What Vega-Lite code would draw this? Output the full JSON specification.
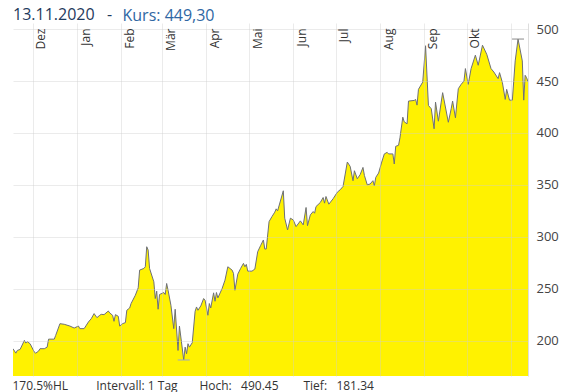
{
  "$schema": "https://vega.github.io/schema/vega-lite/v6.json",
  "width": 515,
  "height": 353,
  "autosize": {"type": "none"},
  "padding": {"left": 13, "top": 23, "right": 40, "bottom": 16},
  "background": "white",
  "config": {"view": {"stroke": null}},
  "title": {
    "text": "13.11.2020\u00a0\u00a0\u00a0-",
    "anchor": "start",
    "frame": "group",
    "offset": 0,
    "dy": 29,
    "baseline": "alphabetic",
    "font": "Open Sans",
    "fontSize": 16,
    "fontWeight": "normal",
    "color": "#1f3a5c"
  },
  "datasets": {
    "px": [
      {"d": "2019-11-17", "v": 192.2}, {"d": "2019-11-19", "v": 187.9}, {"d": "2019-11-20", "v": 190.5},
      {"d": "2019-11-22", "v": 191.5}, {"d": "2019-11-25", "v": 200.2}, {"d": "2019-11-26", "v": 197.6},
      {"d": "2019-11-27", "v": 199.0}, {"d": "2019-11-29", "v": 197.0}, {"d": "2019-12-02", "v": 188.9},
      {"d": "2019-12-03", "v": 187.9}, {"d": "2019-12-05", "v": 189.9}, {"d": "2019-12-06", "v": 192.2},
      {"d": "2019-12-09", "v": 192.2}, {"d": "2019-12-11", "v": 193.7}, {"d": "2019-12-12", "v": 201.4},
      {"d": "2019-12-16", "v": 201.4}, {"d": "2019-12-17", "v": 205.0}, {"d": "2019-12-20", "v": 216.3},
      {"d": "2019-12-23", "v": 215.7}, {"d": "2019-12-27", "v": 214.0}, {"d": "2019-12-30", "v": 212.1},
      {"d": "2020-01-02", "v": 214.0}, {"d": "2020-01-03", "v": 211.5}, {"d": "2020-01-06", "v": 211.5},
      {"d": "2020-01-09", "v": 217.9}, {"d": "2020-01-11", "v": 221.1}, {"d": "2020-01-13", "v": 226.0},
      {"d": "2020-01-15", "v": 222.1}, {"d": "2020-01-17", "v": 224.4}, {"d": "2020-01-18", "v": 225.3},
      {"d": "2020-01-20", "v": 225.0}, {"d": "2020-01-23", "v": 228.5}, {"d": "2020-01-24", "v": 226.6},
      {"d": "2020-01-26", "v": 224.4}, {"d": "2020-01-27", "v": 218.6}, {"d": "2020-01-28", "v": 225.0},
      {"d": "2020-01-30", "v": 223.4}, {"d": "2020-01-31", "v": 214.0}, {"d": "2020-02-02", "v": 216.3},
      {"d": "2020-02-04", "v": 217.3}, {"d": "2020-02-05", "v": 229.2}, {"d": "2020-02-07", "v": 231.4},
      {"d": "2020-02-08", "v": 235.7}, {"d": "2020-02-11", "v": 243.7}, {"d": "2020-02-13", "v": 250.8},
      {"d": "2020-02-14", "v": 267.9}, {"d": "2020-02-17", "v": 269.5}, {"d": "2020-02-18", "v": 271.1},
      {"d": "2020-02-19", "v": 290.4}, {"d": "2020-02-20", "v": 287.2}, {"d": "2020-02-21", "v": 269.5},
      {"d": "2020-02-24", "v": 256.6}, {"d": "2020-02-25", "v": 240.5}, {"d": "2020-02-26", "v": 247.6},
      {"d": "2020-02-27", "v": 230.2}, {"d": "2020-02-28", "v": 244.4}, {"d": "2020-03-02", "v": 246.3},
      {"d": "2020-03-03", "v": 244.4}, {"d": "2020-03-04", "v": 255.0}, {"d": "2020-03-05", "v": 248.5},
      {"d": "2020-03-07", "v": 234.0}, {"d": "2020-03-09", "v": 211.5}, {"d": "2020-03-10", "v": 230.2},
      {"d": "2020-03-12", "v": 190.5}, {"d": "2020-03-13", "v": 214.0}, {"d": "2020-03-16", "v": 181.34},
      {"d": "2020-03-17", "v": 193.7}, {"d": "2020-03-18", "v": 187.3}, {"d": "2020-03-19", "v": 197.0},
      {"d": "2020-03-20", "v": 193.7}, {"d": "2020-03-22", "v": 198.0}, {"d": "2020-03-24", "v": 228.2},
      {"d": "2020-03-25", "v": 232.4}, {"d": "2020-03-26", "v": 229.2}, {"d": "2020-03-28", "v": 233.4},
      {"d": "2020-03-30", "v": 240.5}, {"d": "2020-03-31", "v": 238.9}, {"d": "2020-04-02", "v": 224.4},
      {"d": "2020-04-03", "v": 235.7}, {"d": "2020-04-04", "v": 231.4}, {"d": "2020-04-06", "v": 246.0},
      {"d": "2020-04-07", "v": 237.9}, {"d": "2020-04-08", "v": 246.3}, {"d": "2020-04-09", "v": 241.1},
      {"d": "2020-04-12", "v": 250.2}, {"d": "2020-04-14", "v": 258.2}, {"d": "2020-04-16", "v": 271.1},
      {"d": "2020-04-19", "v": 267.9}, {"d": "2020-04-20", "v": 264.7}, {"d": "2020-04-21", "v": 248.5},
      {"d": "2020-04-23", "v": 264.0}, {"d": "2020-04-25", "v": 269.5}, {"d": "2020-04-27", "v": 274.4},
      {"d": "2020-04-28", "v": 271.1}, {"d": "2020-04-29", "v": 273.4}, {"d": "2020-04-30", "v": 266.9},
      {"d": "2020-05-03", "v": 266.9}, {"d": "2020-05-05", "v": 268.9}, {"d": "2020-05-07", "v": 285.6},
      {"d": "2020-05-09", "v": 291.4}, {"d": "2020-05-11", "v": 296.9}, {"d": "2020-05-12", "v": 288.2},
      {"d": "2020-05-13", "v": 288.2}, {"d": "2020-05-15", "v": 314.6}, {"d": "2020-05-17", "v": 319.4},
      {"d": "2020-05-19", "v": 323.7}, {"d": "2020-05-20", "v": 326.9}, {"d": "2020-05-21", "v": 325.0},
      {"d": "2020-05-25", "v": 344.3}, {"d": "2020-05-26", "v": 317.9}, {"d": "2020-05-28", "v": 306.6},
      {"d": "2020-05-30", "v": 317.9}, {"d": "2020-06-01", "v": 316.2}, {"d": "2020-06-03", "v": 309.8},
      {"d": "2020-06-06", "v": 315.3}, {"d": "2020-06-08", "v": 311.4}, {"d": "2020-06-10", "v": 328.2},
      {"d": "2020-06-11", "v": 310.7}, {"d": "2020-06-13", "v": 321.1}, {"d": "2020-06-15", "v": 324.3},
      {"d": "2020-06-16", "v": 322.7}, {"d": "2020-06-17", "v": 329.1}, {"d": "2020-06-20", "v": 333.0},
      {"d": "2020-06-22", "v": 337.8}, {"d": "2020-06-23", "v": 332.4}, {"d": "2020-06-24", "v": 338.8},
      {"d": "2020-06-26", "v": 331.4}, {"d": "2020-06-29", "v": 336.6}, {"d": "2020-07-02", "v": 343.0},
      {"d": "2020-07-04", "v": 345.3}, {"d": "2020-07-06", "v": 348.5}, {"d": "2020-07-09", "v": 372.0},
      {"d": "2020-07-11", "v": 367.8}, {"d": "2020-07-13", "v": 354.0}, {"d": "2020-07-14", "v": 363.6},
      {"d": "2020-07-16", "v": 355.9}, {"d": "2020-07-18", "v": 359.8}, {"d": "2020-07-20", "v": 366.8},
      {"d": "2020-07-21", "v": 359.1}, {"d": "2020-07-23", "v": 350.1}, {"d": "2020-07-25", "v": 350.8},
      {"d": "2020-07-27", "v": 354.0}, {"d": "2020-07-28", "v": 349.1}, {"d": "2020-07-29", "v": 357.2},
      {"d": "2020-07-31", "v": 361.4}, {"d": "2020-08-02", "v": 371.1}, {"d": "2020-08-04", "v": 379.8},
      {"d": "2020-08-06", "v": 381.3}, {"d": "2020-08-07", "v": 379.8}, {"d": "2020-08-10", "v": 379.8},
      {"d": "2020-08-11", "v": 370.1}, {"d": "2020-08-12", "v": 387.1}, {"d": "2020-08-14", "v": 388.1},
      {"d": "2020-08-15", "v": 395.3}, {"d": "2020-08-17", "v": 415.2}, {"d": "2020-08-18", "v": 410.7},
      {"d": "2020-08-20", "v": 408.8}, {"d": "2020-08-21", "v": 430.7}, {"d": "2020-08-25", "v": 431.3},
      {"d": "2020-08-26", "v": 432.3}, {"d": "2020-08-27", "v": 426.8}, {"d": "2020-08-28", "v": 442.0},
      {"d": "2020-08-31", "v": 449.0}, {"d": "2020-09-02", "v": 484.0}, {"d": "2020-09-04", "v": 426.5},
      {"d": "2020-09-06", "v": 423.3}, {"d": "2020-09-08", "v": 404.0}, {"d": "2020-09-09", "v": 429.7},
      {"d": "2020-09-11", "v": 411.3}, {"d": "2020-09-13", "v": 429.7}, {"d": "2020-09-14", "v": 438.8},
      {"d": "2020-09-18", "v": 410.3}, {"d": "2020-09-20", "v": 423.3}, {"d": "2020-09-21", "v": 430.7},
      {"d": "2020-09-23", "v": 414.6}, {"d": "2020-09-25", "v": 442.6}, {"d": "2020-09-27", "v": 446.8},
      {"d": "2020-09-29", "v": 450.0}, {"d": "2020-09-30", "v": 462.0}, {"d": "2020-10-02", "v": 446.8},
      {"d": "2020-10-04", "v": 462.0}, {"d": "2020-10-07", "v": 474.9}, {"d": "2020-10-09", "v": 465.2},
      {"d": "2020-10-12", "v": 484.5}, {"d": "2020-10-15", "v": 475.8}, {"d": "2020-10-18", "v": 462.0},
      {"d": "2020-10-20", "v": 458.7}, {"d": "2020-10-23", "v": 452.3}, {"d": "2020-10-24", "v": 458.1},
      {"d": "2020-10-26", "v": 448.5}, {"d": "2020-10-28", "v": 432.3}, {"d": "2020-10-29", "v": 442.0},
      {"d": "2020-10-31", "v": 431.6}, {"d": "2020-11-02", "v": 431.6}, {"d": "2020-11-04", "v": 469.4},
      {"d": "2020-11-06", "v": 490.45}, {"d": "2020-11-09", "v": 469.4}, {"d": "2020-11-10", "v": 431.6},
      {"d": "2020-11-11", "v": 455.5}, {"d": "2020-11-12", "v": 453.3}, {"d": "2020-11-13", "v": 449.3}
    ],
    "hl": [
      {"d": "2020-03-16", "v": 181.34, "k": "Tief"},
      {"d": "2020-11-06", "v": 490.45, "k": "Hoch"}
    ]
  },
  "layer": [
    {
      "data": {"name": "px"},
      "mark": {
        "type": "area",
        "color": "#fff200",
        "opacity": 1,
        "fillOpacity": 1,
        "clip": true,
        "line": {"color": "#6e7076", "strokeWidth": 1}
      },
      "encoding": {
        "x": {
          "field": "d",
          "type": "temporal",
          "scale": {
            "type": "utc",
            "domain": [
              {"year": 2019, "month": 11, "date": 17, "utc": true},
              {"year": 2020, "month": 11, "date": 13, "utc": true}
            ]
          },
          "axis": {
            "orient": "top",
            "values": [
              {"year": 2019, "month": 12, "date": 1, "utc": true},
              {"year": 2020, "month": 1, "date": 1, "utc": true},
              {"year": 2020, "month": 2, "date": 1, "utc": true},
              {"year": 2020, "month": 3, "date": 1, "utc": true},
              {"year": 2020, "month": 4, "date": 1, "utc": true},
              {"year": 2020, "month": 5, "date": 1, "utc": true},
              {"year": 2020, "month": 6, "date": 1, "utc": true},
              {"year": 2020, "month": 7, "date": 1, "utc": true},
              {"year": 2020, "month": 8, "date": 1, "utc": true},
              {"year": 2020, "month": 9, "date": 1, "utc": true},
              {"year": 2020, "month": 10, "date": 1, "utc": true},
              {"year": 2020, "month": 11, "date": 1, "utc": true}
            ],
            "labelExpr": "utcmonth(datum.value) == 10 ? '' : ['Jan','Feb','Mär','Apr','Mai','Jun','Jul','Aug','Sep','Okt','Nov','Dez'][utcmonth(datum.value)]",
            "labelAngle": 270,
            "labelAlign": "right",
            "labelBaseline": "top",
            "labelPadding": -5,
            "labelOffset": 3,
            "labelFont": "Open Sans",
            "labelFontSize": 12,
            "labelColor": "#333333",
            "labelOverlap": false,
            "labelBound": false,
            "labelFlush": false,
            "ticks": false,
            "domain": false,
            "grid": true,
            "gridColor": "#cccccc",
            "gridOpacity": 0.4,
            "title": "Kurs: 449,30",
            "titleX": 109,
            "titleY": -3,
            "titleAngle": 0,
            "titleAlign": "left",
            "titleBaseline": "alphabetic",
            "titleFont": "Open Sans",
            "titleFontSize": 16,
            "titleFontWeight": "normal",
            "titleColor": "#2f67a3",
            "zindex": 1
          }
        },
        "y": {
          "field": "v",
          "type": "quantitative",
          "scale": {"domain": [165.9, 505.9], "zero": false, "nice": false},
          "axis": {
            "orient": "right",
            "values": [200, 250, 300, 350, 400, 450, 500],
            "ticks": false,
            "domain": true,
            "domainColor": "#dddddd",
            "labelPadding": 8,
            "labelFont": "Open Sans",
            "labelFontSize": 13,
            "labelColor": "#444444",
            "labelBaseline": "middle",
            "grid": true,
            "gridColor": "#cccccc",
            "gridOpacity": 0.4,
            "title": "170.5%HL\u00a0\u00a0\u00a0\u00a0\u00a0\u00a0\u00a0\u00a0\u00a0Intervall: 1 Tag\u00a0\u00a0\u00a0\u00a0\u00a0\u00a0\u00a0Hoch:\u00a0\u00a0\u00a0490.45\u00a0\u00a0\u00a0\u00a0\u00a0\u00a0\u00a0\u00a0Tief:\u00a0\u00a0\u00a0181.34",
            "titleAngle": 0,
            "titleX": -516,
            "titleY": 366,
            "titleAlign": "left",
            "titleBaseline": "alphabetic",
            "titleFont": "Open Sans",
            "titleFontSize": 12,
            "titleFontWeight": "normal",
            "titleColor": "#333333",
            "zindex": 1
          }
        }
      }
    },
    {
      "data": {"name": "hl"},
      "mark": {"type": "tick", "orient": "horizontal", "size": 12, "thickness": 1, "opacity": 1},
      "encoding": {
        "x": {"field": "d", "type": "temporal"},
        "y": {"field": "v", "type": "quantitative"},
        "color": {
          "field": "k",
          "type": "nominal",
          "scale": {"domain": ["Hoch", "Tief"], "range": ["#8a8a8a", "#9aa8c8"]},
          "legend": null
        }
      }
    }
  ]
}
